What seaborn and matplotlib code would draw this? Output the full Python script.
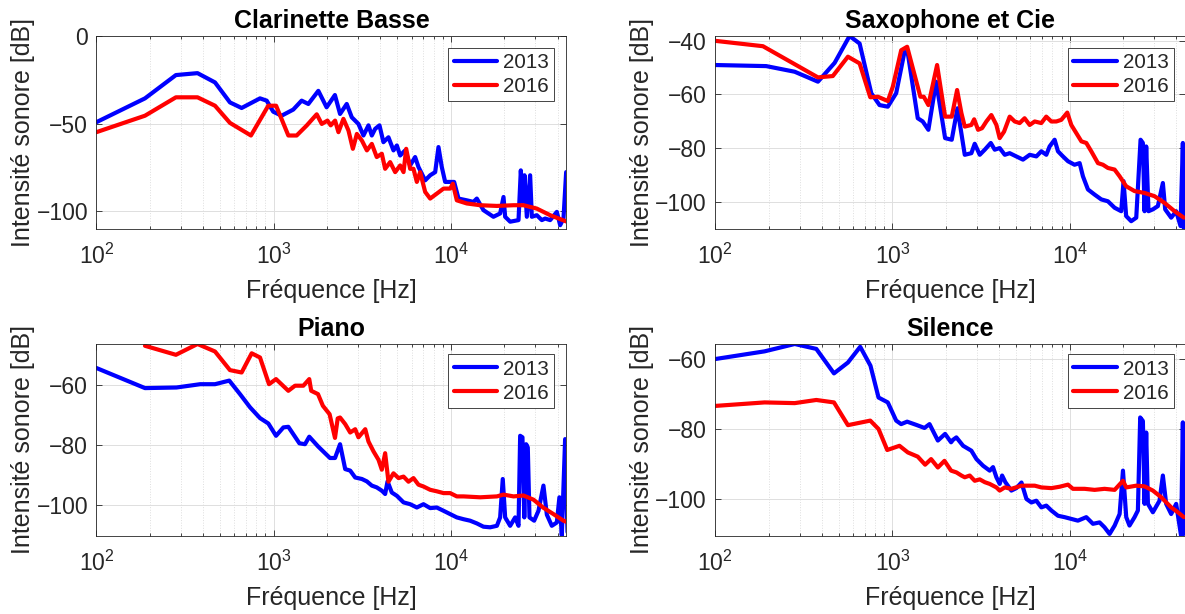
import matplotlib
matplotlib.use("Agg")
import matplotlib.pyplot as plt
import seaborn as sns
from matplotlib.ticker import LogLocator, FixedLocator, NullFormatter, LogFormatterSciNotation

# ---------------- data ----------------
titles = ["Clarinette Basse", "Saxophone et Cie", "Piano", "Silence"]
series_labels = ["2013", "2016"]

# Clarinette Basse
cb_f_2013 = [100, 188, 281, 372, 467, 567, 660, 838, 914, 995, 1109, 1291, 1439, 1570, 1788, 1991, 2218,
             2371, 2586, 2761, 3011, 3213, 3430, 3582, 3742, 3957, 4166, 4447, 4747, 4960, 5177, 5525, 5894,
             6289, 6570, 7165, 7648, 8162, 8518, 8894, 9292, 10440, 11050, 12310, 13420, 14020, 15280, 17400,
             18980, 19830, 20260, 21620, 24100, 24830, 25490, 26050, 26850, 28030, 28650, 30570, 32630, 34070,
             36360, 39650, 41400, 43230, 44760]
cb_db_2013 = [-49.2, -35.6, -22.3, -21.2, -26.5, -37.9, -41.1, -35.6, -36.9, -43.2, -45.5, -42.0, -36.9, -38.8,
              -31.3, -40.7, -33.7, -44.5, -38.8, -46.4, -50.2, -56.8, -51.0, -56.8, -53.0, -51.0, -60.6, -57.8,
              -65.3, -62.5, -68.2, -65.3, -73.9, -69.1, -74.8, -82.4, -79.5, -77.7, -63.4, -74.8, -83.3, -83.3,
              -92.8, -93.8, -94.7, -92.8, -99.4, -103.2, -101.3, -91.9, -103.2, -106.0, -105.1, -76.7, -94.7,
              -79.5, -103.2, -79.5, -103.2, -102.3, -105.1, -104.2, -105.1, -100.4, -108.0, -104.2, -77.7]
cb_f_2016 = [100, 188, 281, 372, 467, 567, 745, 933, 1033, 1211, 1349, 1537, 1751, 1870, 2013, 2100, 2223,
             2322, 2477, 2646, 2800, 2950, 3150, 3360, 3582, 3820, 4080, 4260, 4546, 4853, 5177, 5410, 5600,
             5896, 6155, 6430, 6713, 7165, 7648, 8330, 9100, 9915, 10270, 10810, 12310, 14650, 18200, 22600,
             25700, 30530, 36380, 45200]
cb_db_2016 = [-54.9, -45.5, -35.0, -35.0, -39.8, -49.6, -56.8, -39.8, -39.8, -56.8, -56.8, -51.1, -44.7, -50.2,
              -48.3, -51.0, -48.3, -54.9, -47.3, -54.0, -64.4, -55.9, -59.7, -65.3, -61.6, -69.1, -67.2, -75.8,
              -72.0, -77.7, -73.9, -77.7, -64.4, -75.8, -75.8, -83.3, -77.7, -89.0, -92.8, -90.0, -87.1, -87.1,
              -84.3, -93.8, -95.6, -96.6, -97.0, -96.6, -96.6, -98.5, -102.3, -106.0]

# Saxophone et Cie
sx_f_2013 = [100, 194, 281, 380, 472, 573, 653, 760, 846, 942, 1050, 1170, 1222, 1390, 1483, 1596, 1765, 1983,
             2162, 2328, 2560, 2790, 2914, 3111, 3321, 3590, 3780, 4031, 4305, 4590, 5000, 5455, 5955, 6490,
             6925, 7388, 7710, 8230, 8595, 9170, 9790, 10660, 11390, 11890, 12690, 13830, 15090, 16450, 17940,
             19560, 20150, 20850, 22260, 23770, 25140, 25910, 26480, 27050, 27870, 29500, 31470, 33590, 34620,
             37420, 39930, 42250, 43550, 44120]
sx_db_2013 = [-49.1, -49.5, -51.6, -55.3, -48.3, -38.3, -41.1, -59.6, -64.0, -64.6, -59.6, -44.2, -44.8, -68.9,
              -70.1, -73.2, -55.3, -76.3, -76.9, -65.2, -82.5, -81.9, -78.4, -82.5, -80.6, -78.1, -80.6, -80.0,
              -82.5, -81.9, -83.1, -84.3, -82.5, -83.1, -81.2, -82.5, -79.4, -76.9, -81.2, -83.1, -84.9, -86.2,
              -85.6, -90.5, -95.4, -97.3, -99.1, -99.8, -102.2, -103.5, -92.3, -105.3, -107.2, -105.9, -76.9,
              -78.1, -103.5, -79.4, -103.5, -102.8, -101.6, -93.0, -102.8, -105.9, -103.5, -109.0, -78.1, -110.0]
sx_f_2016 = [100, 186, 380, 461, 561, 653, 750, 828, 942, 1005, 1121, 1211, 1438, 1503, 1596, 1787, 1983, 2162,
             2318, 2451, 2560, 2790, 2893, 3044, 3205, 3390, 3616, 3862, 4030, 4265, 4590, 4900, 5226, 5570,
             5951, 6354, 6923, 7380, 7884, 8415, 8975, 9700, 10220, 10900, 11650, 12420, 13250, 14450, 15420,
             16450, 17940, 19150, 20850, 23240, 26480, 30130, 34330, 39110, 44130]
sx_db_2016 = [-40.1, -42.1, -53.7, -53.2, -46.0, -48.5, -61.1, -60.9, -62.5, -57.2, -43.6, -42.3, -60.9, -60.9,
              -64.0, -49.1, -68.3, -68.3, -58.4, -67.0, -72.0, -71.4, -69.3, -73.2, -72.6, -70.1, -67.7, -71.4,
              -76.3, -73.9, -68.3, -70.1, -70.7, -68.9, -71.4, -70.1, -70.7, -68.3, -70.1, -70.1, -69.5, -66.8,
              -71.4, -74.4, -77.5, -78.1, -81.2, -85.6, -86.2, -87.4, -88.0, -90.5, -94.2, -96.0, -96.7, -97.9,
              -100.4, -103.5, -105.9]

# Piano
pn_f_2013 = [100, 188, 283, 385, 467, 562, 646, 736, 838, 934, 1032, 1136, 1211, 1398, 1504, 1589, 1786, 2080,
             2221, 2371, 2535, 2705, 2887, 3150, 3360, 3582, 3820, 4080, 4260, 4395, 4644, 4960, 5410, 5894,
             6430, 7010, 7648, 8330, 9100, 9915, 10810, 11790, 12850, 14020, 15280, 16670, 18200, 18980, 19640,
             20260, 21620, 23070, 24100, 24620, 25370, 25980, 26610, 27190, 27790, 29530, 31230, 33320, 34830,
             37150, 39650, 41000, 42300, 44160, 45540]
pn_db_2013 = [-54.2, -60.9, -60.7, -59.6, -59.6, -58.4, -62.9, -67.3, -70.9, -72.7, -76.8, -74.0, -73.8, -79.3,
              -79.6, -77.1, -80.4, -84.2, -84.2, -79.6, -87.9, -88.4, -90.7, -91.2, -92.0, -93.4, -94.0, -95.1,
              -96.2, -92.0, -95.7, -96.8, -99.0, -99.6, -100.7, -99.6, -100.9, -100.7, -101.8, -102.9, -104.0,
              -104.6, -105.1, -106.0, -107.1, -107.3, -106.8, -104.0, -91.2, -104.0, -106.8, -104.0, -106.8,
              -76.8, -77.3, -104.0, -79.6, -80.7, -104.0, -105.1, -101.8, -93.4, -103.1, -106.8, -105.7, -97.3,
              -110.0, -77.9, -108.9]
pn_f_2016 = [188, 281, 372, 467, 567, 660, 752, 838, 942, 1032, 1211, 1321, 1472, 1589, 1630, 1780, 1897, 2070,
             2220, 2300, 2371, 2535, 2705, 2887, 3011, 3290, 3430, 3662, 3908, 4080, 4260, 4447, 4747, 5070,
             5410, 5770, 6155, 6570, 7010, 7648, 8330, 9100, 9915, 10810, 11790, 14650, 18200, 19830, 22600,
             25700, 29290, 33320, 37950, 43240, 45000]
pn_db_2016 = [-46.8, -49.8, -46.2, -48.7, -54.9, -55.7, -49.3, -50.7, -59.6, -57.9, -61.8, -60.1, -60.1, -57.9,
              -61.8, -62.9, -66.8, -69.6, -77.5, -71.0, -70.7, -72.9, -75.7, -74.6, -77.3, -74.6, -78.7, -82.0,
              -84.8, -88.1, -82.6, -92.1, -89.3, -90.9, -90.4, -92.1, -90.9, -93.1, -93.7, -94.8, -95.3, -95.9,
              -95.9, -97.0, -97.0, -97.3, -97.0, -96.4, -97.0, -96.7, -98.1, -100.8, -102.9, -105.1, -105.5]

# Silence
sl_f_2013 = [100, 190, 281, 372, 468, 561, 658, 752, 835, 942, 1050, 1120, 1211, 1360, 1517, 1620, 1805, 1983,
             2143, 2197, 2296, 2506, 2790, 2980, 3247, 3540, 3697, 3862, 4031, 4160, 4339, 4690, 5005, 5350,
             5706, 6085, 6489, 6925, 7388, 7890, 8600, 9370, 10220, 11140, 12420, 13540, 14760, 15740, 16810,
             17950, 19150, 20000, 20870, 21770, 23250, 24280, 25020, 25910, 26480, 27050, 27660, 29500, 32160,
             33590, 35070, 37420, 39930, 42560, 43550, 44120]
sl_db_2013 = [-59.9, -57.7, -55.6, -57.0, -64.0, -60.9, -56.4, -61.8, -70.9, -72.3, -77.5, -78.5, -77.8, -78.7,
              -79.6, -78.5, -83.2, -81.3, -83.7, -83.0, -82.3, -84.7, -86.1, -88.5, -90.4, -91.8, -90.8, -93.7,
              -95.6, -93.2, -95.1, -97.5, -96.8, -95.2, -99.9, -100.9, -100.4, -102.3, -101.8, -103.2, -104.7,
              -105.1, -105.6, -106.1, -105.1, -107.0, -106.6, -108.0, -109.9, -107.5, -104.2, -91.8, -105.1,
              -107.5, -105.1, -103.2, -76.6, -77.6, -101.3, -80.9, -101.3, -103.7, -100.4, -93.2, -101.3, -104.2,
              -101.3, -110.4, -78.0, -109.9]
sl_f_2016 = [100, 190, 281, 372, 468, 561, 750, 835, 935, 1096, 1222, 1390, 1530, 1653, 1805, 1967, 2143, 2296,
             2451, 2560, 2731, 2914, 3110, 3321, 3540, 3862, 4030, 4305, 4690, 5350, 6354, 6925, 7890, 8790,
             9790, 10440, 12150, 13830, 15740, 17950, 20000, 20870, 23770, 26480, 29500, 32870, 37420, 40840,
             44130]
sl_db_2016 = [-73.3, -72.3, -72.5, -71.6, -72.3, -78.8, -77.5, -79.9, -85.9, -84.7, -86.6, -87.8, -90.1, -88.5,
              -90.9, -89.0, -91.8, -92.3, -93.2, -93.7, -93.2, -94.7, -94.3, -95.1, -95.6, -96.6, -97.5, -96.6,
              -97.0, -96.1, -96.1, -96.6, -96.8, -96.4, -95.8, -97.0, -97.0, -97.3, -97.0, -97.3, -94.7, -96.6,
              -96.1, -96.3, -97.5, -99.4, -102.3, -103.7, -105.1]

y_limits = [(-110, 0), (-110, -38.3), (-110.1, -46.2), (-110.4, -55.6)]
y_ticks = [[-100, -50, 0], [-100, -80, -60, -40], [-100, -80, -60], [-100, -80, -60]]
x_limits = (100, 44900)

# ---------------- style ----------------
sns.set_style("ticks")
plt.rcParams['font.family'] = ['Liberation Sans', 'DejaVu Sans']
plt.rcParams['mathtext.fontset'] = 'custom'
plt.rcParams['mathtext.rm'] = 'Liberation Sans'
plt.rcParams['mathtext.it'] = 'Liberation Sans:italic'
plt.rcParams['mathtext.bf'] = 'Liberation Sans:bold'

W, H = 1185, 614
fig = plt.figure(figsize=(W / 100, H / 100), dpi=100)

def rect(left, top, right, bottom):
    return [left / W, 1 - bottom / H, (right - left) / W, (bottom - top) / H]

rects = [rect(96.4, 36, 566.4, 228.7), rect(715.2, 36, 1185.2, 228.7),
         rect(96.4, 344, 566.4, 535.7), rect(715.2, 344, 1185.2, 535.7)]
leg_anchor = [(0.974, 0.939), (0.976, 0.939), (0.974, 0.946), (0.976, 0.946)]

data = [(cb_f_2013, cb_db_2013, cb_f_2016, cb_db_2016),
        (sx_f_2013, sx_db_2013, sx_f_2016, sx_db_2016),
        (pn_f_2013, pn_db_2013, pn_f_2016, pn_db_2016),
        (sl_f_2013, sl_db_2013, sl_f_2016, sl_db_2016)]

dark = '#262626'
for i in range(4):
    ax = fig.add_axes(rects[i])
    f13, d13, f16, d16 = data[i]
    sns.lineplot(x=f13, y=d13, ax=ax, color=(0, 0, 1), linewidth=3.0, label=series_labels[0], sort=False)
    sns.lineplot(x=f16, y=d16, ax=ax, color=(1, 0, 0), linewidth=3.0, label=series_labels[1], sort=False)
    ax.set_xscale('log')
    ax.set_xlim(*x_limits)
    ax.set_ylim(*y_limits[i])
    ax.xaxis.set_major_locator(LogLocator(base=10, numticks=10))
    ax.xaxis.set_major_formatter(LogFormatterSciNotation())
    ax.xaxis.set_minor_locator(LogLocator(base=10, subs=range(2, 10), numticks=20))
    ax.xaxis.set_minor_formatter(NullFormatter())
    ax.yaxis.set_major_locator(FixedLocator(y_ticks[i]))
    ax.set_axisbelow(True)
    ax.grid(True, which='major', color='#dedede', linewidth=0.7)
    ax.grid(True, which='minor', axis='x', color='#dedede', linewidth=0.7, linestyle=':')
    ax.tick_params(which='both', direction='in', top=True, right=True, colors=dark,
                   width=0.6, labelsize=16.5, labelcolor='#262626')
    ax.tick_params(which='major', length=4)
    ax.tick_params(which='minor', length=2)
    ax.tick_params(axis='x', pad=11)
    ax.tick_params(axis='y', pad=6)
    for sp in ax.spines.values():
        sp.set_color(dark)
        sp.set_linewidth(0.6)
    ax.set_xlabel('Fréquence [Hz]', fontsize=18, color=dark, labelpad=7)
    ax.set_ylabel('Intensité sonore [dB]', fontsize=18, color=dark, labelpad=1)
    ax.set_title(titles[i], fontsize=18, fontweight='bold', color='black', pad=5.5)
    leg = ax.legend(loc='upper right', bbox_to_anchor=leg_anchor[i], fontsize=14.9,
                    handlelength=2.1, handletextpad=0.3, borderpad=0.25, labelspacing=0.25,
                    borderaxespad=0, fancybox=False, framealpha=1, edgecolor=dark)
    leg.get_frame().set_linewidth(0.6)

fig.savefig('out.png', dpi=100)
